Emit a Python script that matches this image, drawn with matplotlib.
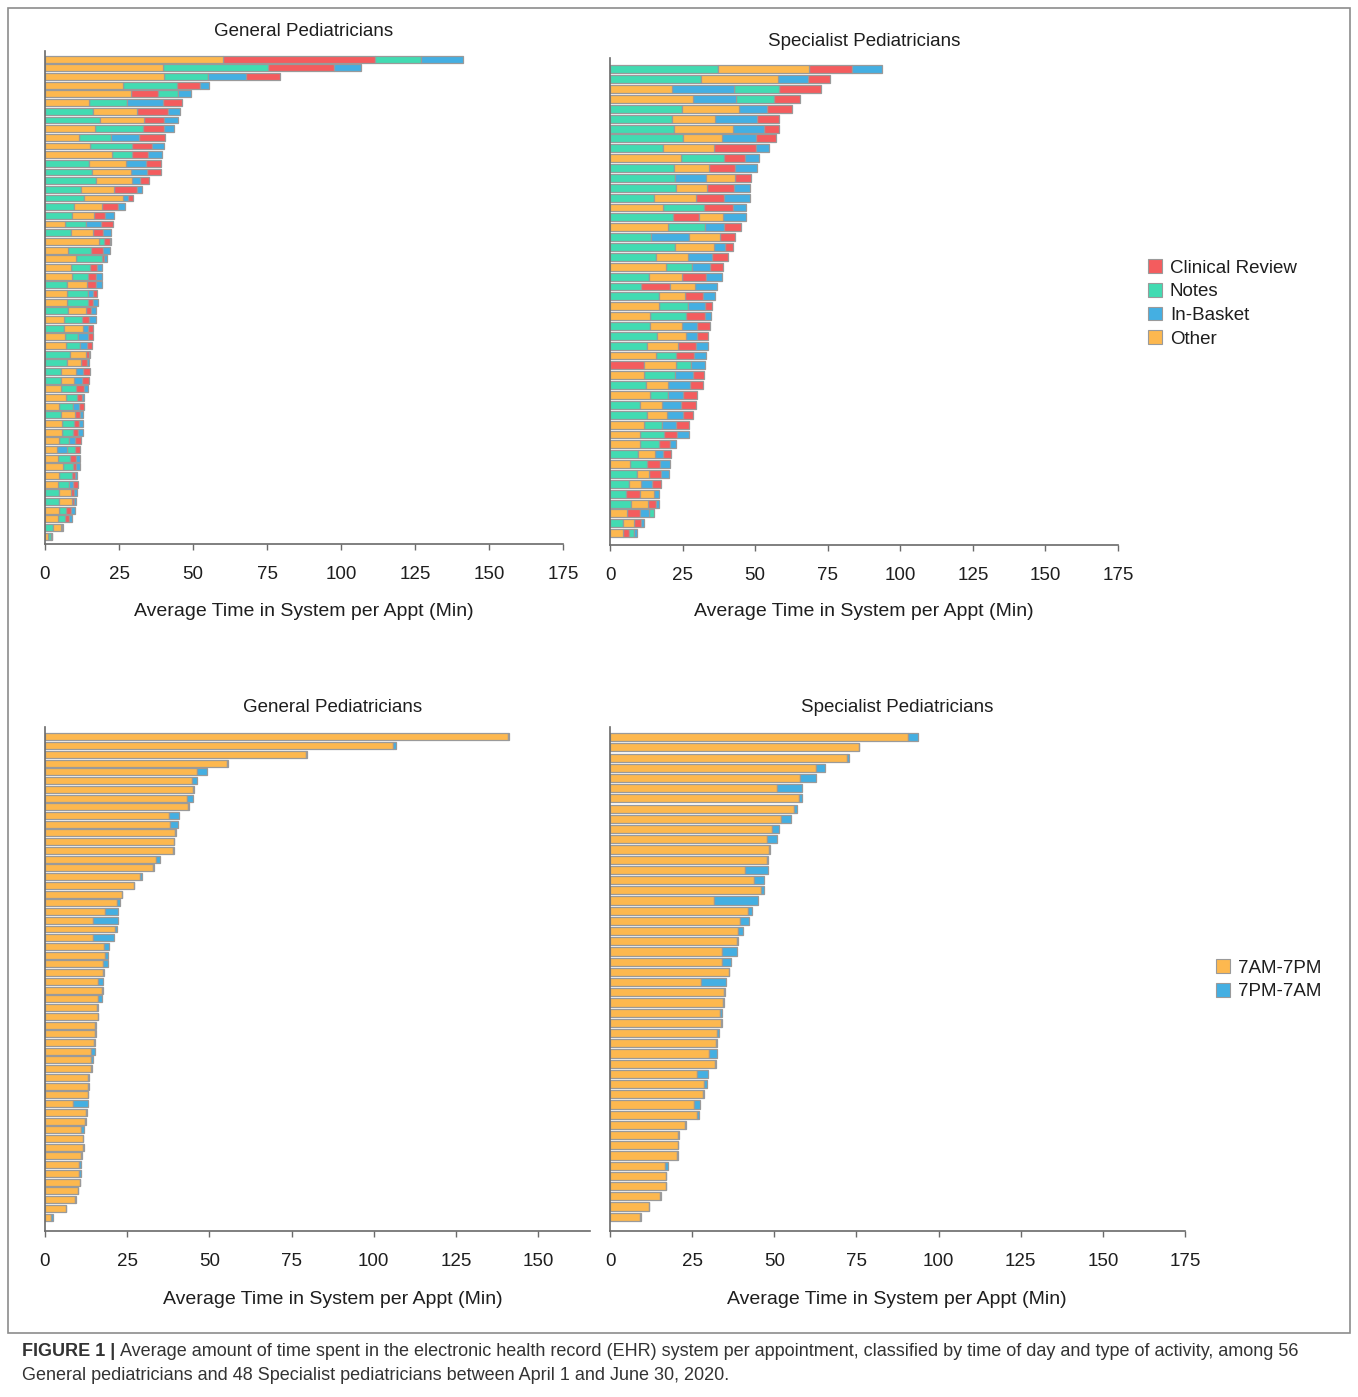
import numpy as np
import matplotlib
matplotlib.use("Agg")
import matplotlib.pyplot as plt
from matplotlib.patches import Patch, Rectangle

######################################
# top row: type of activity (minutes per appointment), one entry per physician
gen_other = [60.2, 40.0, 40.2, 26.2, 29.0, 15.0, 14.7, 15.0, 17.0, 11.6, 15.3, 22.7, 12.4, 13.2,
             12.1, 11.0, 13.0, 9.2, 7.6, 6.9, 7.6, 18.1, 7.8, 10.4, 8.7, 9.2, 7.0, 7.5,
             7.5, 6.1, 6.4, 6.3, 6.9, 7.1, 5.4, 4.7, 5.1, 4.6, 5.3, 7.1, 4.8, 4.8,
             5.6, 5.6, 4.6, 3.9, 4.5, 6.0, 4.8, 4.3, 4.1, 4.2, 4.8, 4.3, 2.6, 1.0]
gen_notes = [15.5, 35.5, 15.0, 18.3, 6.7, 12.8, 16.3, 18.6, 16.0, 10.6, 14.0, 6.6, 14.8, 16.0,
             17.2, 12.3, 13.2, 9.9, 9.1, 6.8, 8.7, 2.0, 7.6, 8.7, 6.5, 5.4, 7.3, 7.1,
             7.1, 7.7, 6.2, 6.5, 4.4, 4.7, 8.4, 7.3, 5.3, 5.3, 5.1, 3.8, 4.7, 5.3,
             4.3, 3.7, 3.6, 2.5, 4.1, 3.4, 4.4, 3.8, 4.6, 4.8, 2.3, 2.3, 2.7, 0.9]
gen_review = [51.3, 22.2, 11.6, 7.9, 9.3, 6.5, 10.5, 6.7, 7.3, 8.8, 6.7, 5.4, 5.1, 5.0,
              2.8, 7.9, 1.7, 5.4, 3.5, 4.1, 3.2, 1.9, 4.3, 1.0, 2.3, 2.6, 2.9, 1.5,
              1.7, 1.8, 2.4, 1.5, 1.6, 1.7, 1.2, 2.1, 2.2, 2.4, 2.9, 1.7, 1.7, 1.7,
              1.7, 2.0, 2.0, 1.6, 1.9, 1.2, 0.9, 1.4, 1.2, 0.9, 1.6, 1.5, 0.6, 0.2]
gen_basket = [14.3, 8.9, 12.6, 3.1, 4.2, 12.0, 4.2, 4.5, 3.3, 9.7, 4.3, 4.8, 7.0, 5.1,
              2.9, 1.5, 1.8, 2.5, 3.2, 5.1, 2.7, 0.3, 2.3, 0.9, 1.9, 1.9, 1.9, 1.6,
              1.5, 1.7, 2.1, 1.8, 3.2, 2.3, 0.2, 0.9, 2.6, 2.5, 1.1, 0.7, 2.0, 1.1,
              1.2, 1.5, 2.1, 3.7, 1.2, 1.1, 0.8, 1.5, 1.0, 0.7, 1.5, 1.1, 0.3, 0.3]

spec_other = [31.6, 26.7, 21.4, 28.7, 19.7, 15.0, 20.2, 13.2, 17.8, 24.5, 12.3, 10.1, 10.8, 14.2,
              18.1, 8.3, 20.1, 10.8, 13.4, 11.0, 19.2, 11.3, 8.8, 9.1, 16.9, 13.8, 10.8, 9.8,
              10.7, 15.7, 11.0, 11.7, 7.7, 13.7, 7.6, 6.9, 11.8, 10.4, 10.2, 5.7, 7.0, 4.3,
              4.0, 4.8, 6.0, 5.7, 3.7, 4.4]
spec_notes = [37.1, 31.3, 15.6, 13.1, 24.7, 21.2, 22.2, 25.3, 18.1, 14.9, 21.9, 22.3, 22.6, 15.3,
              14.4, 21.8, 12.6, 14.1, 22.3, 15.8, 8.9, 13.4, 10.8, 16.9, 9.9, 12.3, 13.9, 16.3,
              12.6, 6.9, 5.3, 10.6, 12.3, 6.4, 10.4, 12.6, 6.0, 8.3, 6.7, 9.8, 5.6, 9.2,
              6.7, 5.5, 7.2, 1.9, 4.5, 1.7]
spec_review = [14.6, 7.7, 14.4, 9.2, 8.5, 7.7, 5.0, 6.9, 14.3, 7.2, 8.9, 5.4, 9.4, 9.9,
               9.8, 8.9, 5.8, 5.1, 2.9, 5.2, 4.7, 8.3, 9.8, 5.9, 2.4, 6.6, 4.5, 3.8,
               6.2, 6.5, 11.6, 3.9, 4.6, 4.6, 5.1, 3.5, 4.6, 4.5, 3.9, 2.6, 4.6, 4.1,
               3.0, 5.0, 2.6, 4.6, 2.4, 2.3]
spec_basket = [10.3, 10.1, 21.3, 14.6, 9.7, 14.4, 10.8, 11.7, 4.7, 4.7, 7.5, 10.7, 5.3, 8.7,
               4.5, 7.8, 6.5, 13.1, 3.8, 8.5, 6.2, 5.5, 7.3, 4.2, 5.8, 2.1, 5.4, 4.0,
               4.1, 3.9, 4.7, 6.2, 7.6, 5.2, 6.5, 5.5, 4.8, 3.9, 1.9, 2.8, 3.5, 2.8,
               3.8, 1.5, 1.0, 3.0, 1.1, 0.8]

# bottom row: time of day (minutes per appointment)
gen_day = [141.0, 105.8, 79.4, 55.5, 46.1, 44.7, 44.9, 43.1, 43.6, 37.7, 37.9, 39.6, 39.1, 39.0,
           33.7, 32.9, 28.8, 27.0, 23.3, 22.0, 18.3, 14.7, 21.3, 14.5, 18.0, 18.3, 17.7, 17.7,
           16.2, 17.4, 16.0, 15.7, 16.0, 15.2, 15.2, 15.0, 14.0, 14.0, 14.1, 13.2, 13.2, 13.0,
           8.6, 12.4, 12.2, 11.0, 11.5, 11.7, 11.1, 10.4, 10.4, 10.5, 9.9, 9.1, 6.3, 1.8]
gen_night = [0.3, 0.9, 0.2, 0.1, 3.1, 1.5, 0.5, 1.8, 0.2, 3.1, 2.6, 0.2, 0.2, 0.2,
             1.3, 0.2, 0.8, 0.2, 0.2, 0.9, 3.9, 7.5, 0.7, 6.6, 1.4, 0.9, 1.4, 0.3,
             1.3, 0.1, 1.2, 0.4, 0.1, 0.3, 0.2, 0.2, 1.2, 0.7, 0.3, 0.3, 0.2, 0.1,
             4.4, 0.4, 0.2, 0.8, 0.2, 0.1, 0.2, 0.7, 0.7, 0.2, 0.2, 0.2, 0.1, 0.7]
spec_day = [90.8, 75.8, 72.2, 62.8, 57.8, 50.9, 57.6, 56.1, 52.0, 49.4, 47.7, 48.4, 47.9, 41.2,
            43.9, 46.1, 31.8, 41.9, 39.6, 39.1, 38.8, 34.1, 34.2, 36.2, 27.6, 34.7, 34.5, 33.5,
            33.7, 32.7, 32.3, 30.1, 32.1, 26.6, 28.7, 28.3, 25.5, 26.4, 22.8, 20.8, 20.7, 20.5,
            16.7, 17.0, 16.9, 15.2, 11.8, 9.1]
spec_night = [2.8, 0.1, 0.5, 2.7, 4.8, 7.4, 0.7, 0.9, 3.0, 1.9, 3.0, 0.2, 0.2, 6.9,
              3.1, 0.8, 13.1, 1.3, 2.8, 1.5, 0.3, 4.7, 2.7, 0.1, 7.6, 0.2, 0.2, 0.6,
              0.3, 0.4, 0.4, 2.4, 0.2, 3.3, 0.9, 0.2, 1.9, 0.8, 0.2, 0.2, 0.1, 0.1,
              0.9, 0.1, 0.2, 0.2, 0.2, 0.2]

activity_labels = ["Clinical Review", "Notes", "In-Basket", "Other"]
time_labels = ["7AM-7PM", "7PM-7AM"]
xticks = [0, 25, 50, 75, 100, 125, 150, 175]
######################################

W, H = 1358, 1397
RED = "#f45c5e"
TEAL = "#42dbb2"
BLUE = "#44afe2"
ORANGE = "#fdb84f"
EDGE = "#9a9a9a"
TXT = "#1e1e1e"

plt.rcParams['font.family'] = ['Liberation Sans', 'DejaVu Sans']


def box(l, t, r, b):
    # pixel box -> figure fraction
    return [l / W, 1 - b / H, (r - l) / W, (b - t) / H]


def style_axes(ax, xmax, ylo, yhi):
    ax.set_xlim(0, xmax)
    ax.set_ylim(yhi, ylo)
    for s in ["top", "right"]:
        ax.spines[s].set_visible(False)
    for s in ["left", "bottom"]:
        ax.spines[s].set_color("#6a6a6a")
        ax.spines[s].set_linewidth(1.2)
    ax.set_yticks([])
    ax.set_xticks([t for t in xticks if t <= xmax])
    ax.tick_params(axis="x", length=4, width=1, color="#6a6a6a", pad=12,
                   labelsize=13.5, labelcolor=TXT)


def stacked_sorted(ax, parts, colors):
    # each bar stacks its segments from largest to smallest
    vals = np.array(parts, dtype=float)          # (k, n)
    n = vals.shape[1]
    y = np.arange(n)
    rank = np.argsort(np.argsort(-vals, axis=0, kind="stable"), axis=0)
    for c in range(vals.shape[0]):
        left = np.array([vals[rank[:, i] < rank[c, i], i].sum() for i in range(n)])
        ax.barh(y, vals[c], left=left, height=0.8, color=colors[c],
                edgecolor=EDGE, linewidth=0.9)


def day_night(ax, day, night):
    y = np.arange(len(day))
    ax.barh(y, day, height=0.8, color=ORANGE, edgecolor=EDGE, linewidth=0.9)
    ax.barh(y, night, left=day, height=0.8, color=BLUE, edgecolor=EDGE, linewidth=0.9)


fig = plt.figure(figsize=(W / 100, H / 100), dpi=100)

# outer frame
fig.patches.append(Rectangle((8 / W, 1 - 1333 / H), 1342 / W, 1325 / H, transform=fig.transFigure,
                             fill=False, edgecolor="#8c8c8c", linewidth=1.2))

act_colors = [RED, TEAL, BLUE, ORANGE]

ax1 = fig.add_axes(box(45, 50.6, 563, 544))
stacked_sorted(ax1, [gen_review, gen_notes, gen_basket, gen_other], act_colors)
style_axes(ax1, 175, -1.0, 55.9)

ax2 = fig.add_axes(box(610, 58.5, 1118, 545))
stacked_sorted(ax2, [spec_review, spec_notes, spec_basket, spec_other], act_colors)
style_axes(ax2, 175, -1.1, 48.2)

ax3 = fig.add_axes(box(45, 726.5, 590, 1231))
day_night(ax3, gen_day, gen_night)
style_axes(ax3, 165.8, -1.2, 56.6)

ax4 = fig.add_axes(box(610, 727, 1185, 1231))
day_night(ax4, spec_day, spec_night)
style_axes(ax4, 175, -1.0, 48.4)

# titles and axis labels
for x, y, s in [(304, 31, "General Pediatricians"), (864, 41, "Specialist Pediatricians"),
                (333, 707, "General Pediatricians"), (897, 707, "Specialist Pediatricians")]:
    fig.text(x / W, 1 - y / H, s, ha="center", va="center", fontsize=13.5, color=TXT)
for x, y in [(304, 611), (864, 611), (333, 1299), (897, 1299)]:
    fig.text(x / W, 1 - y / H, "Average Time in System per Appt (Min)", ha="center",
             va="center", fontsize=14, color=TXT)

# legends
leg_act = [Patch(facecolor=c, edgecolor=EDGE, linewidth=0.8) for c in act_colors]
fig.legend(leg_act, activity_labels, loc="upper left", bbox_to_anchor=(1139 / W, 1 - 250 / H),
           frameon=False, fontsize=13.5, handlelength=0.75, handleheight=0.75,
           handletextpad=0.4, labelspacing=0.33, borderpad=0, labelcolor=TXT)
leg_time = [Patch(facecolor=c, edgecolor=EDGE, linewidth=0.8) for c in [ORANGE, BLUE]]
fig.legend(leg_time, time_labels, loc="upper left", bbox_to_anchor=(1207 / W, 1 - 950 / H),
           frameon=False, fontsize=13.5, handlelength=0.75, handleheight=0.75,
           handletextpad=0.4, labelspacing=0.33, borderpad=0, labelcolor=TXT)

# caption
cap_font = ['Liberation Sans Narrow', 'Liberation Sans', 'DejaVu Sans']
t0 = fig.text(22 / W, 1 - 1351 / H, "FIGURE 1 |", fontsize=13, weight="bold", va="center",
              family=cap_font, color="#333333")
fig.canvas.draw()
bb = t0.get_window_extent()
fig.text((bb.x1 + 5) / W, 1 - 1351 / H,
         "Average amount of time spent in the electronic health record (EHR) system per appointment, "
         "classified by time of day and type of activity, among 56",
         fontsize=13, va="center", family=cap_font, color="#333333")
fig.text(22 / W, 1 - 1376 / H,
         "General pediatricians and 48 Specialist pediatricians between April 1 and June 30, 2020.",
         fontsize=13, va="center", family=cap_font, color="#333333")

fig.savefig("out.png", dpi=100)
